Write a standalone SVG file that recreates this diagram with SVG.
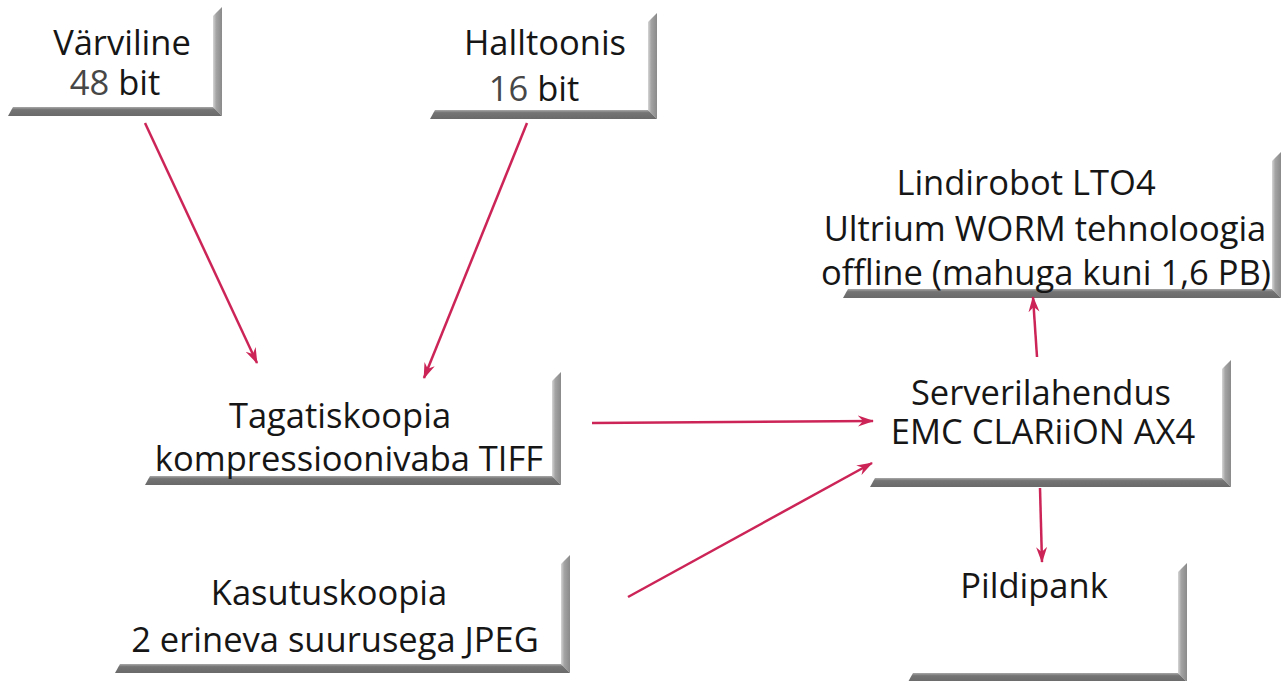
<svg xmlns="http://www.w3.org/2000/svg" width="1281" height="681" viewBox="0 0 1281 681">
  <defs>
    <linearGradient id="gRight" x1="0" y1="0" x2="1" y2="0">
      <stop offset="0" stop-color="#d6d6d6"/>
      <stop offset="0.35" stop-color="#a4a4a4"/>
      <stop offset="1" stop-color="#8a8a8a"/>
    </linearGradient>
    <linearGradient id="gBottom" x1="0" y1="0" x2="0" y2="1">
      <stop offset="0" stop-color="#a8a8a8"/>
      <stop offset="0.3" stop-color="#747474"/>
      <stop offset="1" stop-color="#6a6a6a"/>
    </linearGradient>
    <marker id="arrow" viewBox="0 0 16 12" refX="15" refY="6" markerWidth="16" markerHeight="12" markerUnits="userSpaceOnUse" orient="auto">
      <path d="M0,0.5 L16,6 L0,11.5 L5,6 Z" fill="#cc2457"/>
    </marker>
  </defs>
  <style>
    .rb { fill: url(#gRight); }
    .bb { fill: url(#gBottom); }
    text { font-family: "Open Sans", "Noto Sans", "DejaVu Sans", sans-serif; font-size: 34.5px; fill: #161616; text-anchor: middle; }
    .num { fill: #474747; }
    .conn { stroke: #cc2457; stroke-width: 2.5; fill: none; marker-end: url(#arrow); }
  </style>
  <rect width="1281" height="681" fill="#ffffff"/>

  <g id="varviline">
    <polygon class="rb" points="213,16 222,7 222,116 213,107"/>
    <polygon class="bb" points="13,107 213,107 222,116 8,116"/>
    <text x="122" y="55">Värviline</text>
    <text x="115" y="95"><tspan class="num">48</tspan> bit</text>
  </g>

  <g id="halltoonis">
    <polygon class="rb" points="648,22 657,13 657,119 648,110"/>
    <polygon class="bb" points="435,110 648,110 657,119 430,119"/>
    <text x="545" y="55">Halltoonis</text>
    <text x="534" y="101"><tspan class="num">16</tspan> bit</text>
  </g>

  <g id="lindirobot">
    <polygon class="rb" points="1272,161 1281,152 1281,298 1272,289"/>
    <polygon class="bb" points="848,289 1272,289 1281,298 843,298"/>
    <text x="1026" y="195">Lindirobot LTO4</text>
    <text x="1045" y="241">Ultrium WORM tehnoloogia</text>
    <text x="1046" y="285">offline (mahuga kuni 1,6 PB)</text>
  </g>

  <g id="tagatiskoopia">
    <polygon class="rb" points="552,381 561,372 561,485 552,476"/>
    <polygon class="bb" points="150,476 552,476 561,485 145,485"/>
    <text x="340" y="428">Tagatiskoopia</text>
    <text x="349" y="471">kompressioonivaba TIFF</text>
  </g>

  <g id="serverilahendus">
    <polygon class="rb" points="1222,369 1231,360 1231,487 1222,478"/>
    <polygon class="bb" points="875,478 1222,478 1231,487 870,487"/>
    <text x="1041" y="405">Serverilahendus</text>
    <text x="1043" y="444">EMC CLARiiON AX4</text>
  </g>

  <g id="kasutuskoopia">
    <polygon class="rb" points="561,564 570,555 570,673 561,664"/>
    <polygon class="bb" points="120,664 561,664 570,673 115,673"/>
    <text x="329" y="605">Kasutuskoopia</text>
    <text x="335" y="652">2 erineva suurusega JPEG</text>
  </g>

  <g id="pildipank">
    <polygon class="rb" points="1178,572 1187,563 1187,682 1178,673"/>
    <polygon class="bb" points="913,673 1178,673 1187,682 908,682"/>
    <text x="1034" y="598">Pildipank</text>
  </g>

  <g id="connectors">
    <line class="conn" x1="145" y1="123" x2="257" y2="363"/>
    <line class="conn" x1="527" y1="123" x2="424" y2="378"/>
    <line class="conn" x1="592" y1="423" x2="873" y2="421"/>
    <line class="conn" x1="628" y1="597" x2="872" y2="463"/>
    <line class="conn" x1="1037" y1="357" x2="1033" y2="297"/>
    <line class="conn" x1="1040" y1="488" x2="1042" y2="562"/>
  </g>
</svg>
